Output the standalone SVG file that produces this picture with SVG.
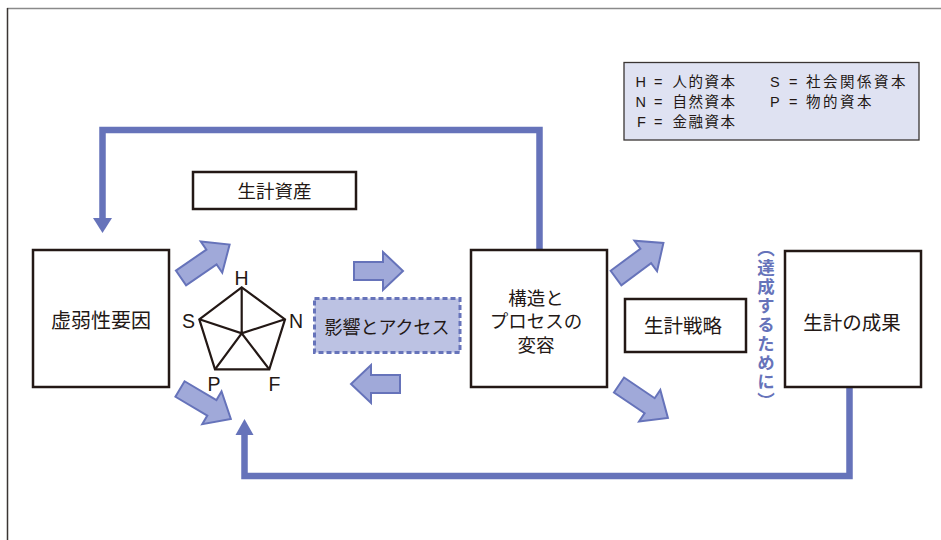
<svg xmlns="http://www.w3.org/2000/svg" width="941" height="540" viewBox="0 0 941 540">
<defs>
<style>
.t{font-family:"Liberation Sans","Noto Sans CJK JP",sans-serif;fill:#231815;}
.box{fill:#fff;stroke:#231815;stroke-width:2.5;}
.blk{fill:#a0a9d9;stroke:#6673ba;stroke-width:2;stroke-linejoin:miter;}
.fb{fill:none;stroke:#6673ba;stroke-width:6.5;}
.hd{fill:#6673ba;}
.pent{fill:none;stroke:#231815;stroke-width:2.2;stroke-linejoin:miter;}
</style>
<path id="ar" d="M0,-9 H37 V-19 L59,0 L37,19 V9 H0 Z"/>
<path id="arh" d="M0,-9 H29 V-19 L49,0 L29,19 V9 H0 Z"/>
</defs>
<rect width="941" height="540" fill="#fff"/>
<g id="frame">
<line x1="7" y1="8.5" x2="941" y2="8.5" stroke="#8a8a8a" stroke-width="1.5"/>
<line x1="7.5" y1="8" x2="7.5" y2="540" stroke="#3a3533" stroke-width="1.5"/>
</g>
<g id="connectors">
<path class="fb" d="M539.5,250 V130 H102.5 V219"/>
<polygon class="hd" points="93,218 112,218 102.5,233"/>
<path class="fb" d="M849.5,387 V476 H244.5 V434"/>
<polygon class="hd" points="235.5,435 253.5,435 244.5,419"/>
<use href="#ar" class="blk" transform="translate(181,278) rotate(-34.5)"/>
<use href="#ar" class="blk" transform="translate(180,389) rotate(30.5)"/>
<use href="#ar" class="blk" transform="translate(616,278) rotate(-36.5)"/>
<use href="#ar" class="blk" transform="translate(619,385) rotate(34)"/>
<use href="#arh" class="blk" transform="translate(354,271)"/>
<use href="#arh" class="blk" transform="translate(400,384) rotate(180)"/>
</g>
<g id="legend">
<rect x="624" y="62.5" width="295" height="77.5" fill="#dfe2f2" stroke="#3a3533" stroke-width="1.3"/>
<g class="t" font-size="14.5">
<text x="635.5" y="87">H</text><text x="654" y="87">=</text><text x="672.5" y="87" letter-spacing="1.5">人的資本</text>
<text x="770" y="87">S</text><text x="789" y="87">=</text><text x="806" y="87" letter-spacing="2.5">社会関係資本</text>
<text x="635.5" y="106.5">N</text><text x="654" y="106.5">=</text><text x="672.5" y="106.5" letter-spacing="1.5">自然資本</text>
<text x="770" y="106.5">P</text><text x="789" y="106.5">=</text><text x="806" y="106.5" letter-spacing="2.5">物的資本</text>
<text x="637" y="126.5">F</text><text x="654" y="126.5">=</text><text x="672.5" y="126.5" letter-spacing="1.5">金融資本</text>
</g>
</g>
<g id="vulnerability">
<rect class="box" x="33" y="250" width="136" height="137"/>
<text class="t" x="101" y="328" font-size="20" text-anchor="middle">虚弱性要因</text>
</g>
<g id="assets">
<rect class="box" x="193" y="172" width="163" height="37"/>
<text class="t" x="274.5" y="197.5" font-size="18.5" text-anchor="middle">生計資産</text>
</g>
<g id="pentagon">
<polygon class="pent" points="241.7,287.3 285,319.3 269.3,369.3 215,369.3 199.3,319.3"/>
<path class="pent" d="M241.7,287.3 L241.7,333.3 M199.3,319.3 L241.7,333.3 L285,319.3 M215,369.3 L241.7,333.3 L269.3,369.3"/>
<g class="t" font-size="19.5" text-anchor="middle">
<text x="241.5" y="284.5">H</text>
<text x="188.5" y="328">S</text>
<text x="296" y="328">N</text>
<text x="214" y="390.5">P</text>
<text x="274.5" y="390.5">F</text>
</g>
</g>
<g id="access">
<rect x="314.5" y="298.5" width="145.5" height="54" fill="#bcc2e3" stroke="#6673ba" stroke-width="3" stroke-dasharray="5,3"/>
<text class="t" x="387" y="334" font-size="18" text-anchor="middle">影響とアクセス</text>
</g>
<g id="structures">
<rect class="box" x="471" y="250" width="136" height="137"/>
<g class="t" font-size="18.5" text-anchor="middle">
<text x="536" y="304.5">構造と</text>
<text x="536" y="328">プロセスの</text>
<text x="536" y="352">変容</text>
</g>
</g>
<g id="strategies">
<rect class="box" x="625" y="299" width="121" height="53"/>
<text class="t" x="683" y="333" font-size="19.5" text-anchor="middle">生計戦略</text>
</g>
<g id="achieve">
<text x="766" y="240" font-size="17.5" font-weight="bold" letter-spacing="1.5" fill="#6673ba" font-family="'Noto Sans CJK JP',sans-serif" style="writing-mode:vertical-rl">（達成するために）</text>
</g>
<g id="outcomes">
<rect class="box" x="785" y="251" width="136" height="136"/>
<text class="t" x="852" y="329.5" font-size="19.5" text-anchor="middle">生計の成果</text>
</g>
</svg>
